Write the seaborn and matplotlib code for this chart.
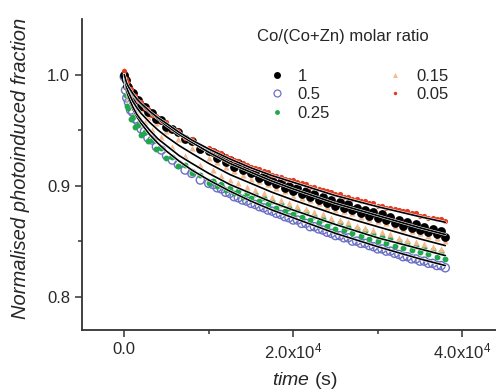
import matplotlib
matplotlib.use("Agg")
import matplotlib.pyplot as plt
import matplotlib.patheffects as pe
import seaborn as sns
from matplotlib.lines import Line2D

# ---- data -------------------------------------------------------------
# measurement times (s), shared by all series
t_meas = [0, 150, 300, 500, 750, 1000, 1300, 1600, 2000, 2400, 2800, 3300, 3800, 4400, 5000,
          5700, 6400, 7200, 8000, 9000, 10000,
          10500, 11000, 11500, 12000, 12500, 13000, 13500, 14000, 14500, 15000,
          15500, 16000, 16500, 17000, 17500, 18000, 18500, 19000, 19500, 20000,
          20500, 21000, 21500, 22000, 22500, 23000, 23500, 24000, 24500, 25000,
          25500, 26000, 26500, 27000, 27500, 28000, 28500, 29000, 29500, 30000,
          30500, 31000, 31500, 32000, 32500, 33000, 33500, 34000, 34500, 35000,
          35500, 36000, 36500, 37000, 37500, 38000]

ratio_1 = [1.000, 0.995, 0.990, 0.989, 0.984, 0.983, 0.978, 0.977, 0.972, 0.971, 0.966, 0.965, 0.960, 0.959, 0.953,
           0.951, 0.948, 0.942, 0.940, 0.933, 0.931,
           0.930, 0.925, 0.927, 0.921, 0.923, 0.917, 0.920, 0.914, 0.916, 0.911,
           0.912, 0.907, 0.909, 0.904, 0.906, 0.901, 0.903, 0.898, 0.900, 0.895,
           0.898, 0.892, 0.895, 0.890, 0.892, 0.887, 0.890, 0.884, 0.887, 0.882,
           0.885, 0.880, 0.883, 0.878, 0.880, 0.875, 0.878, 0.873, 0.876, 0.871,
           0.874, 0.869, 0.872, 0.866, 0.869, 0.864, 0.867, 0.862, 0.865, 0.860,
           0.863, 0.858, 0.861, 0.856, 0.859, 0.854]

ratio_05 = [0.998, 0.986, 0.979, 0.975, 0.968, 0.966, 0.960, 0.958, 0.951, 0.949, 0.943, 0.941, 0.935, 0.932, 0.927,
            0.923, 0.919, 0.914, 0.911, 0.905, 0.902,
            0.901, 0.898, 0.897, 0.894, 0.893, 0.890, 0.889, 0.887, 0.886, 0.884,
            0.883, 0.881, 0.880, 0.878, 0.877, 0.875, 0.874, 0.872, 0.871, 0.869,
            0.869, 0.866, 0.866, 0.863, 0.863, 0.861, 0.860, 0.858, 0.857, 0.855,
            0.855, 0.853, 0.853, 0.850, 0.850, 0.848, 0.848, 0.846, 0.845, 0.843,
            0.843, 0.841, 0.841, 0.839, 0.838, 0.836, 0.836, 0.834, 0.834, 0.832,
            0.832, 0.830, 0.830, 0.828, 0.828, 0.826]

ratio_025 = [0.996, 0.982, 0.972, 0.970, 0.960, 0.962, 0.953, 0.955, 0.946, 0.948, 0.940, 0.941, 0.933, 0.934, 0.925,
             0.926, 0.918, 0.919, 0.911, 0.910, 0.902,
             0.904, 0.900, 0.901, 0.896, 0.898, 0.893, 0.895, 0.890, 0.893, 0.889,
             0.892, 0.886, 0.889, 0.883, 0.886, 0.880, 0.883, 0.877, 0.880, 0.874,
             0.878, 0.872, 0.876, 0.869, 0.873, 0.867, 0.870, 0.864, 0.867, 0.861,
             0.866, 0.860, 0.863, 0.857, 0.861, 0.855, 0.859, 0.852, 0.856, 0.850,
             0.854, 0.848, 0.852, 0.846, 0.850, 0.844, 0.848, 0.842, 0.846, 0.840,
             0.844, 0.838, 0.842, 0.836, 0.840, 0.834]

ratio_015 = [1.004, 0.990, 0.992, 0.979, 0.984, 0.971, 0.977, 0.964, 0.969, 0.957, 0.962, 0.950, 0.956, 0.944, 0.949,
             0.935, 0.942, 0.927, 0.934, 0.919, 0.925,
             0.914, 0.921, 0.909, 0.917, 0.905, 0.913, 0.902, 0.910, 0.899, 0.906,
             0.896, 0.904, 0.893, 0.901, 0.890, 0.898, 0.887, 0.895, 0.884, 0.891,
             0.882, 0.889, 0.879, 0.887, 0.876, 0.884, 0.874, 0.881, 0.871, 0.878,
             0.869, 0.877, 0.867, 0.875, 0.864, 0.872, 0.862, 0.870, 0.860, 0.868,
             0.858, 0.866, 0.856, 0.864, 0.853, 0.861, 0.851, 0.859, 0.849, 0.857,
             0.847, 0.855, 0.845, 0.853, 0.843, 0.850]

ratio_005 = [1.003, 0.996, 0.993, 0.988, 0.987, 0.982, 0.981, 0.976, 0.975, 0.970, 0.969, 0.964, 0.963, 0.958, 0.957,
             0.951, 0.949, 0.943, 0.942, 0.936, 0.934,
             0.932, 0.930, 0.929, 0.927, 0.925, 0.923, 0.922, 0.920, 0.919, 0.917,
             0.916, 0.915, 0.913, 0.912, 0.910, 0.909, 0.908, 0.906, 0.905, 0.905,
             0.903, 0.902, 0.901, 0.899, 0.899, 0.897, 0.896, 0.895, 0.894, 0.892,
             0.892, 0.890, 0.890, 0.888, 0.888, 0.886, 0.886, 0.884, 0.884, 0.882,
             0.882, 0.880, 0.880, 0.879, 0.878, 0.877, 0.877, 0.875, 0.875, 0.873,
             0.873, 0.871, 0.871, 0.870, 0.870, 0.868]

# fitted curves (s)
t_fit = [0, 250, 500, 1000, 1500, 2000, 3000, 4000, 5000, 6500, 8000, 10000,
         12500, 15000, 17500, 20000, 25000, 30000, 35000, 38000]
fit_1 = [1.0, 0.992, 0.988, 0.982, 0.977, 0.973, 0.966, 0.960, 0.954, 0.946, 0.939, 0.930,
         0.920, 0.912, 0.904, 0.897, 0.884, 0.873, 0.862, 0.856]
fit_05 = [1.0, 0.985, 0.978, 0.969, 0.962, 0.956, 0.946, 0.938, 0.931, 0.922, 0.914, 0.905,
          0.895, 0.886, 0.878, 0.871, 0.857, 0.845, 0.834, 0.828]
fit_025 = [1.0, 0.986, 0.980, 0.971, 0.964, 0.959, 0.950, 0.942, 0.936, 0.927, 0.920, 0.911,
           0.901, 0.893, 0.885, 0.878, 0.865, 0.853, 0.843, 0.837]
fit_015 = [1.0, 0.989, 0.984, 0.976, 0.970, 0.965, 0.957, 0.950, 0.944, 0.936, 0.929, 0.920,
           0.910, 0.902, 0.894, 0.887, 0.874, 0.863, 0.852, 0.846]
fit_005 = [1.0, 0.993, 0.989, 0.983, 0.978, 0.974, 0.967, 0.961, 0.956, 0.948, 0.941, 0.933,
           0.924, 0.916, 0.909, 0.903, 0.891, 0.881, 0.872, 0.867]

labels = ["1", "0.5", "0.25", "0.15", "0.05"]
xtick_vals = [0, 20000, 40000]
xtick_labels = ["0.0", "2.0x10$^4$", "4.0x10$^4$"]
ytick_vals = [0.8, 0.9, 1.0]
ytick_labels = ["0.8", "0.9", "1.0"]

# ---- style ------------------------------------------------------------
sns.set_style("ticks")
plt.rcParams["font.family"] = ["Liberation Sans", "DejaVu Sans"]
plt.rcParams["mathtext.fontset"] = "custom"
plt.rcParams["mathtext.rm"] = "Liberation Sans"
plt.rcParams["mathtext.it"] = "Liberation Sans:italic"

fig = plt.figure(figsize=(4.96, 3.91), dpi=100)
ax = fig.add_axes([82 / 496, 61 / 391, 414 / 496, 311 / 391])

styles = {
    "1": dict(color="black", marker="o", s=40, edgecolor="black", linewidth=0),
    "0.5": dict(facecolor="none", marker="o", s=34, edgecolor="#6c70c4", linewidth=1.0),
    "0.25": dict(color="#1fa84c", marker="o", s=18, edgecolor="#1fa84c", linewidth=0),
    "0.15": dict(color="#f6b98c", marker="^", s=20, edgecolor="#f6b98c", linewidth=0),
    "0.05": dict(color="#e53a22", marker="o", s=14, edgecolor="#e53a22", linewidth=0),
}
series = {"1": ratio_1, "0.5": ratio_05, "0.25": ratio_025, "0.15": ratio_015, "0.05": ratio_005}
fits = [fit_1, fit_05, fit_025, fit_015, fit_005]

for lab in ["0.5", "0.25", "0.15", "1", "0.05"]:
    sns.scatterplot(x=t_meas, y=series[lab], ax=ax, legend=False, zorder=2, **styles[lab])

for f in fits:
    sns.lineplot(x=t_fit, y=f, ax=ax, color="black", linewidth=1.2, estimator=None, zorder=3,
                 path_effects=[pe.Stroke(linewidth=2.0, foreground="white"), pe.Normal()])

ax.set_xlim(-5000, 44000)
ax.set_ylim(0.77, 1.05)
ax.set_xticks(xtick_vals, xtick_labels)
ax.set_xticks([10000, 30000], minor=True)
ax.set_yticks(ytick_vals, ytick_labels)
ax.set_yticks([0.85, 0.95], minor=True)
ax.tick_params(axis="both", which="major", labelsize=12, length=5, width=1.1, color="#333333",
               labelcolor="#2a2a2a")
ax.tick_params(axis="both", which="minor", length=3, width=1.1, color="#333333")
for side in ["top", "right"]:
    ax.spines[side].set_visible(False)
for side in ["left", "bottom"]:
    ax.spines[side].set_linewidth(1.3)
    ax.spines[side].set_color("#333333")

ax.set_xlabel("$\\it{time}$ (s)", fontsize=14)
ax.xaxis.set_label_coords((305 - 82) / 414, -0.13)
ax.set_ylabel("Normalised photoinduced fraction", fontsize=14.5, style="italic")
ax.yaxis.set_label_coords(-0.125, 0.52)

# legend
handles = []
for lab in labels:
    st = styles[lab]
    if lab == "0.5":
        h = Line2D([], [], linestyle="none", marker="o", markersize=5, markerfacecolor="none",
                   markeredgecolor=st["edgecolor"], markeredgewidth=0.9)
    else:
        h = Line2D([], [], linestyle="none", marker=st["marker"],
                   markersize={"1": 5, "0.25": 3.5, "0.15": 3.5, "0.05": 2.5}[lab],
                   color=st["color"], markeredgewidth=0)
    handles.append(h)
ax.legend(handles, labels, ncol=2, frameon=False, loc="upper left", fontsize=12,
          bbox_to_anchor=(270 / 496, 1 - 69 / 391), bbox_transform=fig.transFigure,
          borderpad=0, borderaxespad=0, handlelength=0.8, handletextpad=0.86,
          columnspacing=3.5, labelspacing=0.2)
fig.text(257 / 496, 1 - 37 / 391, "Co/(Co+Zn) molar ratio", fontsize=12, ha="left", va="center")

fig.savefig("out.png", dpi=100)
